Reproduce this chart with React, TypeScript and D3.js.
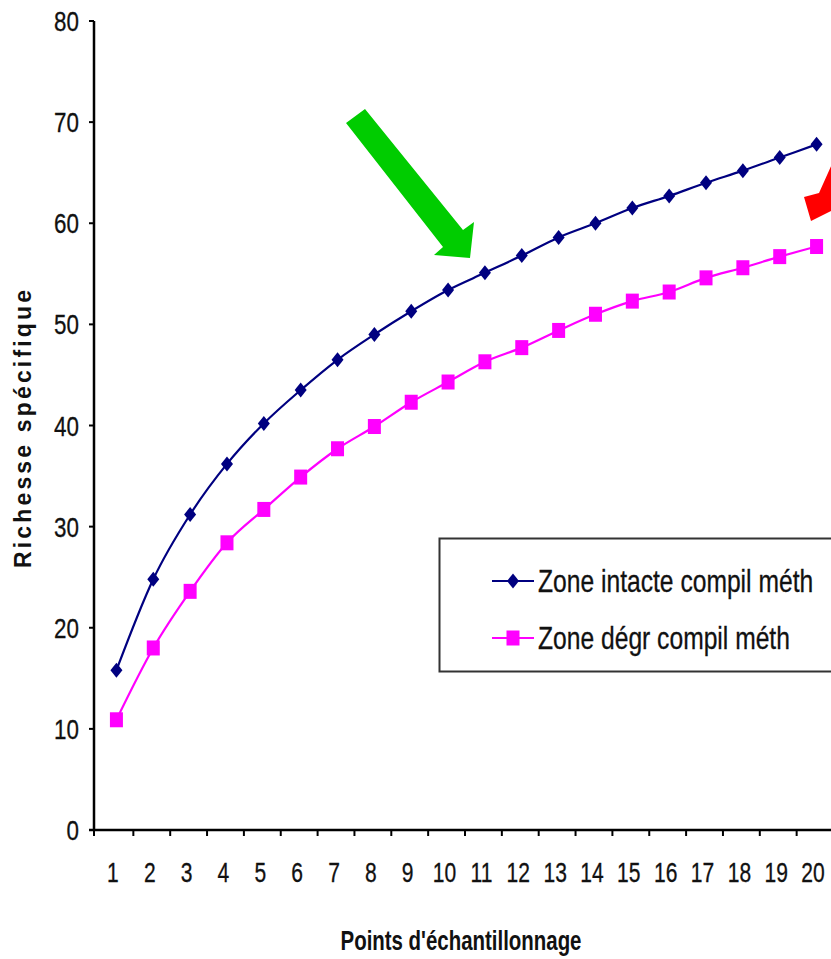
import React from "react";
import * as d3 from "d3";

const categories: string[] = ["1","2","3","4","5","6","7","8","9","10","11","12","13","14","15","16","17","18","19","20"];
const intacte: number[] = [15.8, 24.8, 31.2, 36.2, 40.2, 43.5, 46.5, 49.0, 51.3, 53.4, 55.1, 56.8, 58.6, 60.0, 61.5, 62.7, 64.0, 65.2, 66.5, 67.8];
const degr: number[] = [10.9, 18.0, 23.6, 28.4, 31.7, 34.9, 37.7, 39.9, 42.3, 44.3, 46.3, 47.7, 49.4, 51.0, 52.3, 53.2, 54.6, 55.6, 56.7, 57.7];
const yTicks: number[] = [0, 10, 20, 30, 40, 50, 60, 70, 80];
const seriesNames: string[] = ["Zone intacte compil  méth", "Zone dégr compil méth"];
const xTitle = "Points d'échantillonnage";
const yTitle = "Richesse spécifique";

const W = 831;
const H = 959;
const FONT = "'Liberation Sans', Arial, sans-serif";

export default function App() {
  const x = d3.scaleBand<string>().domain(categories).range([96.5, 833.5]).paddingInner(0).paddingOuter(0);
  const y = d3.scaleLinear().domain([0, 80]).range([830, 21]);
  const cx = (i: number) => (x(categories[i]) as number) + x.bandwidth() / 2 + 1.5;

  const line = d3
    .line<number>()
    .x((_, i) => cx(i))
    .y((d) => y(d))
    .curve(d3.curveCardinal.tension(0));

  const diamond = (px: number, py: number) =>
    `M${px},${py - 7.5}L${px + 6},${py}L${px},${py + 7.5}L${px - 6},${py}Z`;

  const x0 = 94;
  const xEnd = W;
  const blue = "#000080";
  const pink = "#FF00FF";

  return (
    <svg
      width={W}
      height={H}
      style={{ position: "absolute", left: 0, top: 0, background: "#fff" }}
    >
      <rect x={0} y={0} width={W} height={H} fill="#fff" />

      {/* Y axis */}
      <line x1={x0} y1={y(80)} x2={x0} y2={y(0)} stroke="#000" strokeWidth={2.5} />
      {yTicks.map((t) => (
        <g key={"yt" + t}>
          <line x1={x0 - 5} x2={x0} y1={y(t)} y2={y(t)} stroke="#000" strokeWidth={2} />
          <text
            transform={`translate(79,${y(t) + 10}) scale(0.8,1)`}
            textAnchor="end"
            fontFamily={FONT}
            fontSize={28}
            fill="#111"
            stroke="#111"
            strokeWidth={0.3}
          >
            {t}
          </text>
        </g>
      ))}

      {/* X axis */}
      <line x1={x0 - 5} x2={xEnd} y1={y(0)} y2={y(0)} stroke="#000" strokeWidth={2.5} />
      <line x1={x0} x2={x0} y1={y(0)} y2={y(0) + 6} stroke="#000" strokeWidth={2} />
      {categories.slice(1).map((c) => (
        <line
          key={"xt" + c}
          x1={x(c) as number}
          x2={x(c) as number}
          y1={y(0)}
          y2={y(0) + 6}
          stroke="#000"
          strokeWidth={2}
        />
      ))}
      {categories.map((c) => (
        <text
          key={"xl" + c}
          transform={`translate(${(x(c) as number) + x.bandwidth() / 2 - 2},882) scale(0.78,1)`}
          textAnchor="middle"
          fontFamily={FONT}
          fontSize={27}
          fill="#111"
          stroke="#111"
          strokeWidth={0.3}
        >
          {c}
        </text>
      ))}

      {/* Titles */}
      <text
        transform="translate(461,950) scale(0.73,1)"
        textAnchor="middle"
        fontFamily={FONT}
        fontWeight="bold"
        fontSize={28}
        fill="#111"
      >
        {xTitle}
      </text>
      <text
        transform="translate(31,568) rotate(-90)"
        textAnchor="start"
        fontFamily={FONT}
        fontWeight="bold"
        fontSize={23}
        textLength={278}
        lengthAdjust="spacing"
        fill="#111"
      >
        {yTitle}
      </text>

      {/* Series lines */}
      <path d={line(intacte) || ""} fill="none" stroke={blue} strokeWidth={2.2} />
      <path d={line(degr) || ""} fill="none" stroke={pink} strokeWidth={2.2} />

      {/* Markers */}
      {intacte.map((v, i) => (
        <path key={"d" + i} d={diamond(cx(i), y(v))} fill={blue} />
      ))}
      {degr.map((v, i) => (
        <rect key={"s" + i} x={cx(i) - 6.5} y={y(v) - 7.5} width={13} height={15} fill={pink} />
      ))}

      {/* Legend */}
      <rect x={439.5} y={538.5} width={420} height={133} fill="#fff" stroke="#333" strokeWidth={2} />
      <line x1={492} x2={534} y1={581} y2={581} stroke={blue} strokeWidth={2} />
      <path d={diamond(513, 581)} fill={blue} />
      <text
        transform="translate(538,592) scale(0.77,1)"
        fontFamily={FONT}
        fontSize={32}
        fill="#111"
        stroke="#111"
        strokeWidth={0.3}
      >
        {seriesNames[0]}
      </text>
      <line x1={492} x2={534} y1={638} y2={638} stroke={pink} strokeWidth={2} />
      <rect x={506.5} y={630.5} width={13} height={15} fill={pink} />
      <text
        transform="translate(538,649) scale(0.77,1)"
        fontFamily={FONT}
        fontSize={32}
        fill="#111"
        stroke="#111"
        strokeWidth={0.3}
      >
        {seriesNames[1]}
      </text>

      {/* Arrows */}
      <polygon
        points="346,123 365,109 463,230 474,222 470,258 434,255 443,247"
        fill="#00CC00"
      />
      <polygon
        points="811,221 804,197 819,193 845,135 865,143 838,203 833,210"
        fill="#FF0000"
      />
    </svg>
  );
}
